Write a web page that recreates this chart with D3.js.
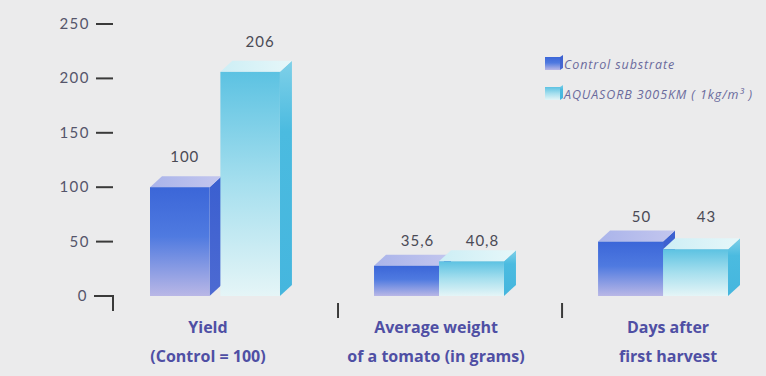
<!DOCTYPE html>
<html>
<head>
<meta charset="utf-8">
<script src="https://cdn.jsdelivr.net/npm/d3@7"></script>
<style>
  html, body { margin: 0; padding: 0; background: #ebebec; }
  svg { display: block; }
</style>
</head>
<body>
<svg id="chart" width="766" height="376"></svg>
<script>
// Categories (two-line labels) and the two series
const categories = ["yield", "weight", "days"];
const categoryLines = [
  ["Yield", "(Control = 100)"],
  ["Average weight", "of a tomato (in grams)"],
  ["Days after", "first harvest"]
];
const seriesNames = ["Control substrate", "AQUASORB 3005KM ( 1kg/m\u00B3 )"];
const controlValues = [100, 35.6, 50];
const aquasorbValues = [206, 40.8, 43];
const valueLabels = [["100", "206"], ["35,6", "40,8"], ["50", "43"]];
const yTicks = [0, 50, 100, 150, 200, 250];
// the weight group is drawn on its own (gram) scale
const weightScaleMax = 320;

const svg = d3.select("#chart");
const W = 766, H = 376;
svg.append("rect").attr("width", W).attr("height", H).attr("fill", "#ebebec");

const baseY = 296, topY = 24;
const y = d3.scaleLinear().domain([0, 250]).range([baseY, topY]);
const yWeight = d3.scaleLinear().domain([0, weightScaleMax]).range([baseY, topY]);
const scaleFor = i => (categories[i] === "weight" ? yWeight : y);

const x0 = d3.scaleBand().domain(categories).range([150, 728]).paddingInner(0.42).paddingOuter(0);

const depthX = 12, depthY = -11;

// gradients
const defs = svg.append("defs");
function vGrad(id, stops) {
  const g = defs.append("linearGradient").attr("id", id)
    .attr("x1", 0).attr("y1", 0).attr("x2", 0).attr("y2", 1);
  stops.forEach(([o, c]) => g.append("stop").attr("offset", o).attr("stop-color", c));
}
function hGrad(id, stops) {
  const g = defs.append("linearGradient").attr("id", id)
    .attr("x1", 0).attr("y1", 0).attr("x2", 1).attr("y2", 0);
  stops.forEach(([o, c]) => g.append("stop").attr("offset", o).attr("stop-color", c));
}
vGrad("blueFront", [[0, "#3b66d8"], [0.45, "#4f7ae0"], [1, "#b9b7e6"]]);
vGrad("blueSide", [[0, "#3a5fd0"], [1, "#4d6ad2"]]);
hGrad("blueTop", [[0, "#aab4ea"], [1, "#c3c6ee"]]);
vGrad("cyanFront", [[0, "#5cc2e2"], [0.5, "#a6dfee"], [1, "#e5f5f7"]]);
vGrad("cyanSide", [[0, "#7fd0e8"], [0.3, "#4bbbe0"], [1, "#45b6de"]]);
hGrad("cyanTop", [[0, "#cdeef5"], [1, "#e6f7f9"]]);

const fills = [
  { front: "url(#blueFront)", side: "url(#blueSide)", top: "url(#blueTop)" },
  { front: "url(#cyanFront)", side: "url(#cyanSide)", top: "url(#cyanTop)" }
];

// y axis: short dashes with labels
const axisG = svg.append("g");
yTicks.forEach(t => {
  const ty = y(t);
  axisG.append("text")
    .attr("x", t === 0 ? 88 : 90).attr("y", ty + 5)
    .attr("text-anchor", "end")
    .attr("font-family", "Lato, 'Open Sans', sans-serif")
    .attr("font-size", 15)
    .attr("letter-spacing", 1.5)
    .attr("fill", "#55556a")
    .text(t);
  if (t === 0) {
    axisG.append("path")
      .attr("d", `M94,${ty} H113 V${ty + 15}`)
      .attr("fill", "none").attr("stroke", "#3a3a3a").attr("stroke-width", 2);
  } else {
    axisG.append("line")
      .attr("x1", 96).attr("x2", 113).attr("y1", ty).attr("y2", ty)
      .attr("stroke", "#3a3a3a").attr("stroke-width", 2);
  }
});

// separators between groups
categories.forEach((c, i) => {
  if (i === 0) return;
  const sx = x0(c) - 36;
  svg.append("line")
    .attr("x1", sx).attr("x2", sx).attr("y1", 303).attr("y2", 318)
    .attr("stroke", "#3a3a3a").attr("stroke-width", 2);
});

// 3D bars
const series = [controlValues, aquasorbValues];
const barsG = svg.append("g");
categories.forEach((c, i) => {
  const ys = scaleFor(i);
  const gap = c === "yield" ? 10 : 0; // the tall pair stands apart
  const x1 = d3.scaleBand().domain([0, 1]).range([0, x0.bandwidth()])
    .paddingInner(gap / (x0.bandwidth() / 2)).paddingOuter(0);
  const tops = [ys(controlValues[i]), ys(aquasorbValues[i])];
  const aligned = i > 0; // labels of the small groups share one line
  const labelLine = tops[0] - 20;
  [0, 1].forEach(s => {
    const v = series[s][i];
    const bx = x0(c) + x1(s);
    const bw = x1.bandwidth();
    const ty = ys(v);
    const g = barsG.append("g");
    // side face
    g.append("path")
      .attr("d", `M${bx + bw},${ty} L${bx + bw + depthX},${ty + depthY} L${bx + bw + depthX},${baseY + depthY} L${bx + bw},${baseY} Z`)
      .attr("fill", fills[s].side);
    // top face
    g.append("path")
      .attr("d", `M${bx},${ty} L${bx + depthX},${ty + depthY} L${bx + bw + depthX},${ty + depthY} L${bx + bw},${ty} Z`)
      .attr("fill", fills[s].top);
    // front face
    g.append("rect")
      .attr("x", bx).attr("y", ty).attr("width", bw).attr("height", baseY - ty)
      .attr("fill", fills[s].front);
    // value label
    svg.append("text")
      .attr("x", bx + bw / 2 + (i === 0 ? 5 + s * 5 : 11))
      .attr("y", aligned ? labelLine : ty - 25)
      .attr("text-anchor", "middle")
      .attr("font-family", "Lato, 'Open Sans', sans-serif")
      .attr("font-size", 15)
      .attr("letter-spacing", 1)
      .attr("fill", "#4a4a55")
      .text(valueLabels[i][s]);
  });
});

// category labels
categories.forEach((c, i) => {
  const cx = x0(c) + x0.bandwidth() / 2 + (i === 0 ? -7 : i === 1 ? -3 : 5);
  const t = svg.append("text")
    .attr("text-anchor", "middle")
    .attr("font-family", "'Open Sans', Lato, sans-serif")
    .attr("font-weight", "bold")
    .attr("font-size", 16)
    .attr("fill", "#4f4fa4");
  categoryLines[i].forEach((line, k) => {
    t.append("tspan").attr("x", cx).attr("y", 333 + k * 29).text(line);
  });
});

// legend
const legend = svg.append("g").attr("transform", "translate(545,57)");
seriesNames.forEach((name, s) => {
  const ly = s * 30;
  legend.append("rect").attr("x", 0).attr("y", ly).attr("width", 15).attr("height", 13)
    .attr("fill", fills[s].front);
  legend.append("path")
    .attr("d", `M15,${ly} L18,${ly - 2} L18,${ly + 11} L15,${ly + 13} Z`)
    .attr("fill", fills[s].side);
  legend.append("text")
    .attr("x", 19).attr("y", ly + 12)
    .attr("font-family", "'Open Sans', Lato, sans-serif")
    .attr("font-style", "italic")
    .attr("font-size", 12.5)
    .attr("letter-spacing", 0.9)
    .attr("fill", "#6a6a9c")
    .text(name);
});
</script>
</body>
</html>
